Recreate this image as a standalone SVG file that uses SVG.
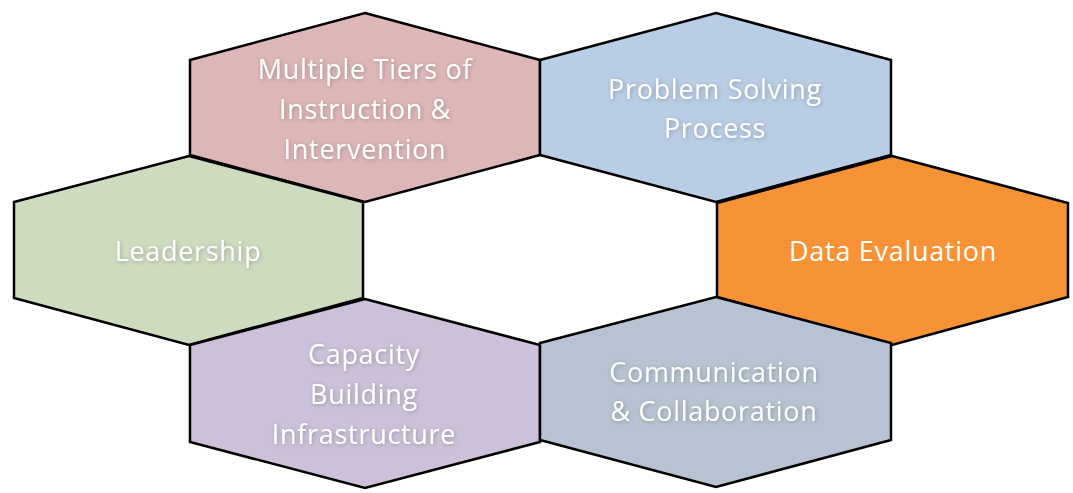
<svg xmlns="http://www.w3.org/2000/svg" width="1073" height="493" viewBox="0 0 1073 493">
<style>
.hex{stroke:#000;stroke-width:2.5;stroke-linejoin:miter}
.t{font-family:"Open Sans","Liberation Sans",sans-serif;font-size:27px;letter-spacing:0.7px;fill:#fff;text-anchor:middle}
.s{filter:url(#ts)}
</style>
<defs>
<filter id="ts" x="-20%" y="-50%" width="140%" height="200%">
<feGaussianBlur in="SourceAlpha" stdDeviation="2"/>
<feOffset dx="1" dy="1" result="b"/>
<feFlood flood-color="#000" flood-opacity="0.25"/>
<feComposite in2="b" operator="in"/>
<feMerge><feMergeNode/><feMergeNode in="SourceGraphic"/></feMerge>
</filter>
</defs>
<rect width="1073" height="493" fill="#fff"/>
<g id="node-tiers">
<polygon class="hex" fill="#DDB6B6" points="365,13 540,60 540,155 365,202 190,155 190,60"/>
<text class="t s" x="365" y="79">Multiple Tiers of</text>
<text class="t s" x="365" y="119">Instruction &amp;</text>
<text class="t s" x="365" y="159">Intervention</text>
</g>
<g id="node-problem">
<polygon class="hex" fill="#B9CDE4" points="716,13 891,60 891,155 716,202 540,155 540,60"/>
<text class="t s" x="715" y="99">Problem Solving</text>
<text class="t s" x="715" y="138">Process</text>
</g>
<g id="node-leadership">
<polygon class="hex" fill="#CDDBBF" points="189,156 363,202 363,298 189,345 14,298 14,202"/>
<text class="t s" x="188" y="261">Leadership</text>
</g>
<g id="node-data">
<polygon class="hex" fill="#F79236" points="892,156 1068,203 1068,297 892,345 717,297 717,203"/>
<text class="t" x="893" y="261">Data Evaluation</text>
</g>
<g id="node-capacity">
<polygon class="hex" fill="#CCC1D9" points="365,299 540,345 540,442 365,488 190,442 190,345"/>
<text class="t s" x="364" y="364">Capacity</text>
<text class="t s" x="364" y="404">Building</text>
<text class="t s" x="364" y="444">Infrastructure</text>
</g>
<g id="node-communication">
<polygon class="hex" fill="#B7C3D2" points="716,297 891,343 891,440 716,487 540,440 540,343"/>
<text class="t s" x="714" y="382">Communication</text>
<text class="t s" x="714" y="421">&amp; Collaboration</text>
</g>
<g id="connectors"></g>
</svg>
